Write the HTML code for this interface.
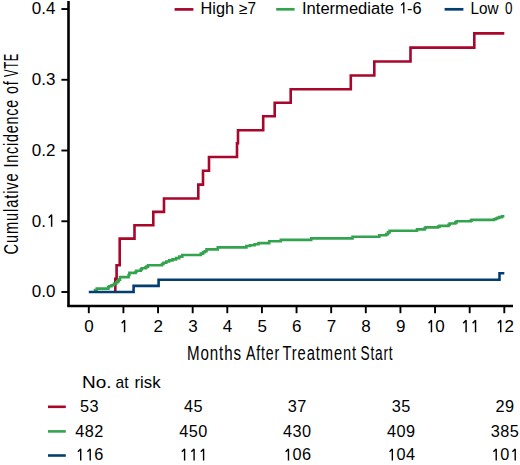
<!DOCTYPE html>
<html><head><meta charset="utf-8"><style>
html,body{margin:0;padding:0;background:#fff;}
svg{display:block;}
text{font-family:"Liberation Sans", sans-serif;fill:#000;}
</style></head><body>
<svg width="520" height="465" viewBox="0 0 520 465">
<path d="M68.5 1V306" stroke="#000" stroke-width="2.6" fill="none"/>
<path d="M67.2 306H513" stroke="#000" stroke-width="2.7" fill="none"/>
<path d="M61.4 292.00H68" stroke="#000" stroke-width="1.9"/>
<text x="36.60" y="297.40" text-anchor="middle" font-size="17">0</text>
<text x="43.69" y="297.40" text-anchor="middle" font-size="17">.</text>
<text x="50.77" y="297.40" text-anchor="middle" font-size="17">0</text>
<path d="M61.4 221.26H68" stroke="#000" stroke-width="1.9"/>
<text x="36.60" y="226.66" text-anchor="middle" font-size="17">0</text>
<text x="43.69" y="226.66" text-anchor="middle" font-size="17">.</text>
<path d="M48.73 217.73L51.62 214.76V226.66" stroke="#000" stroke-width="1.45" fill="none" stroke-linejoin="bevel"/>
<path d="M61.4 150.52H68" stroke="#000" stroke-width="1.9"/>
<text x="36.60" y="155.92" text-anchor="middle" font-size="17">0</text>
<text x="43.69" y="155.92" text-anchor="middle" font-size="17">.</text>
<text x="50.77" y="155.92" text-anchor="middle" font-size="17">2</text>
<path d="M61.4 79.78H68" stroke="#000" stroke-width="1.9"/>
<text x="36.60" y="85.18" text-anchor="middle" font-size="17">0</text>
<text x="43.69" y="85.18" text-anchor="middle" font-size="17">.</text>
<text x="50.77" y="85.18" text-anchor="middle" font-size="17">3</text>
<path d="M61.4 9.04H68" stroke="#000" stroke-width="1.9"/>
<text x="36.60" y="14.44" text-anchor="middle" font-size="17">0</text>
<text x="43.69" y="14.44" text-anchor="middle" font-size="17">.</text>
<text x="50.77" y="14.44" text-anchor="middle" font-size="17">4</text>
<path d="M88.80 306V313.2" stroke="#000" stroke-width="1.9"/>
<text x="89.10" y="332.20" text-anchor="middle" font-size="17">0</text>
<path d="M123.42 306V313.2" stroke="#000" stroke-width="1.9"/>
<path d="M121.68 323.28L124.57 320.30V332.20" stroke="#000" stroke-width="1.45" fill="none" stroke-linejoin="bevel"/>
<path d="M158.05 306V313.2" stroke="#000" stroke-width="1.9"/>
<text x="158.35" y="332.20" text-anchor="middle" font-size="17">2</text>
<path d="M192.68 306V313.2" stroke="#000" stroke-width="1.9"/>
<text x="192.98" y="332.20" text-anchor="middle" font-size="17">3</text>
<path d="M227.30 306V313.2" stroke="#000" stroke-width="1.9"/>
<text x="227.60" y="332.20" text-anchor="middle" font-size="17">4</text>
<path d="M261.93 306V313.2" stroke="#000" stroke-width="1.9"/>
<text x="262.23" y="332.20" text-anchor="middle" font-size="17">5</text>
<path d="M296.55 306V313.2" stroke="#000" stroke-width="1.9"/>
<text x="296.85" y="332.20" text-anchor="middle" font-size="17">6</text>
<path d="M331.18 306V313.2" stroke="#000" stroke-width="1.9"/>
<text x="331.48" y="332.20" text-anchor="middle" font-size="17">7</text>
<path d="M365.80 306V313.2" stroke="#000" stroke-width="1.9"/>
<text x="366.10" y="332.20" text-anchor="middle" font-size="17">8</text>
<path d="M400.43 306V313.2" stroke="#000" stroke-width="1.9"/>
<text x="400.73" y="332.20" text-anchor="middle" font-size="17">9</text>
<path d="M435.05 306V313.2" stroke="#000" stroke-width="1.9"/>
<path d="M428.58 323.28L431.47 320.30V332.20" stroke="#000" stroke-width="1.45" fill="none" stroke-linejoin="bevel"/>
<text x="440.08" y="332.20" text-anchor="middle" font-size="17">0</text>
<path d="M469.68 306V313.2" stroke="#000" stroke-width="1.9"/>
<path d="M463.21 323.28L466.10 320.30V332.20" stroke="#000" stroke-width="1.45" fill="none" stroke-linejoin="bevel"/>
<path d="M472.66 323.28L475.55 320.30V332.20" stroke="#000" stroke-width="1.45" fill="none" stroke-linejoin="bevel"/>
<path d="M504.30 306V313.2" stroke="#000" stroke-width="1.9"/>
<path d="M497.83 323.28L500.72 320.30V332.20" stroke="#000" stroke-width="1.45" fill="none" stroke-linejoin="bevel"/>
<text x="509.33" y="332.20" text-anchor="middle" font-size="17">2</text>
<path d="M115.3 292.5H115.3V278.7H116.6V265.3H119.7V238.6H134.5V225.3H153.3V211.9H164.0V198.5H198.3V184.6H203.0V170.8H209.0V157.0H237.0V143.3H238.0V130.3H263.2V116.3H274.7V102.8H290.7V89.2H350.8V75.5H374.3V61.5H410.5V47.6H474.3V33.4H504.3" stroke="#A8062B" stroke-width="2.6" fill="none"/>
<path d="M95.0 291.5H95.0V290.0H96.8V288.6H108.2V287.4H109.0V286.2H111.5V285.2H113.9V283.8H116.2V282.3H117.7V281.1H118.8V279.6H120.0V277.1H128.6V275.0H129.4V272.9H135.6V271.8H136.4V270.7H140.8V269.4H141.8V268.2H145.6V267.4H146.5V266.6H148.0V265.3H162.0V264.0H163.5V262.8H166.3V261.5H169.2V260.4H172.5V259.4H176.0V258.1H179.2V256.6H182.3V255.0H200.8V253.6H203.0V252.3H204.8V251.2H206.5V249.4H217.8V247.4H246.4V246.0H250.0V245.2H254.6V244.3H258.5V243.1H269.2V241.3H280.8V239.9H311.2V238.4H352.5V236.8H379.3V235.3H386.2V234.1H388.0V232.4H389.6V230.8H417.0V229.4H424.6V228.2H425.6V227.4H438.0V226.6H439.5V225.9H448.5V224.8H449.6V223.5H455.4V222.4H456.6V221.3H470.7V220.6H471.5V219.9H494.0V219.2H495.8V218.5H497.5V217.8H499.2V217.1H502.0V216.3H504.4" stroke="#33A34E" stroke-width="2.6" fill="none"/>
<path d="M88.8 292.0H133.6V285.9H158.6V279.8H499.5V273.2H504.3" stroke="#033E72" stroke-width="2.6" fill="none"/>
<path d="M401.12 5.36L403.79 2.61V13.60" stroke="#000" stroke-width="1.33" fill="none" stroke-linejoin="bevel"/>
<path d="M174.6 9.4H193.4" stroke="#A8062B" stroke-width="2.7"/>
<path d="M276.2 9.3H294.6" stroke="#33A34E" stroke-width="2.7"/>
<path d="M444.6 9.3H463.4" stroke="#033E72" stroke-width="2.7"/>
<path d="M48 406.8H65.8" stroke="#A8062B" stroke-width="2.6"/>
<text x="84.65" y="411.60" text-anchor="middle" font-size="16.3">5</text>
<text x="94.15" y="411.60" text-anchor="middle" font-size="16.3">3</text>
<text x="188.53" y="411.60" text-anchor="middle" font-size="16.3">4</text>
<text x="198.03" y="411.60" text-anchor="middle" font-size="16.3">5</text>
<text x="292.40" y="411.60" text-anchor="middle" font-size="16.3">3</text>
<text x="301.90" y="411.60" text-anchor="middle" font-size="16.3">7</text>
<text x="396.28" y="411.60" text-anchor="middle" font-size="16.3">3</text>
<text x="405.78" y="411.60" text-anchor="middle" font-size="16.3">5</text>
<text x="500.15" y="411.60" text-anchor="middle" font-size="16.3">2</text>
<text x="509.65" y="411.60" text-anchor="middle" font-size="16.3">9</text>
<path d="M48 431.4H65.8" stroke="#33A34E" stroke-width="2.6"/>
<text x="79.90" y="436.50" text-anchor="middle" font-size="16.3">4</text>
<text x="89.40" y="436.50" text-anchor="middle" font-size="16.3">8</text>
<text x="98.90" y="436.50" text-anchor="middle" font-size="16.3">2</text>
<text x="183.78" y="436.50" text-anchor="middle" font-size="16.3">4</text>
<text x="193.28" y="436.50" text-anchor="middle" font-size="16.3">5</text>
<text x="202.78" y="436.50" text-anchor="middle" font-size="16.3">0</text>
<text x="287.65" y="436.50" text-anchor="middle" font-size="16.3">4</text>
<text x="297.15" y="436.50" text-anchor="middle" font-size="16.3">3</text>
<text x="306.65" y="436.50" text-anchor="middle" font-size="16.3">0</text>
<text x="391.53" y="436.50" text-anchor="middle" font-size="16.3">4</text>
<text x="401.03" y="436.50" text-anchor="middle" font-size="16.3">0</text>
<text x="410.53" y="436.50" text-anchor="middle" font-size="16.3">9</text>
<text x="495.40" y="436.50" text-anchor="middle" font-size="16.3">3</text>
<text x="504.90" y="436.50" text-anchor="middle" font-size="16.3">8</text>
<text x="514.40" y="436.50" text-anchor="middle" font-size="16.3">5</text>
<path d="M48 455.5H65.8" stroke="#033E72" stroke-width="2.6"/>
<path d="M77.94 451.84L80.71 448.99V460.40" stroke="#000" stroke-width="1.39" fill="none" stroke-linejoin="bevel"/>
<path d="M87.44 451.84L90.21 448.99V460.40" stroke="#000" stroke-width="1.39" fill="none" stroke-linejoin="bevel"/>
<text x="98.90" y="460.40" text-anchor="middle" font-size="16.3">6</text>
<path d="M181.82 451.84L184.59 448.99V460.40" stroke="#000" stroke-width="1.39" fill="none" stroke-linejoin="bevel"/>
<path d="M191.32 451.84L194.09 448.99V460.40" stroke="#000" stroke-width="1.39" fill="none" stroke-linejoin="bevel"/>
<path d="M200.82 451.84L203.59 448.99V460.40" stroke="#000" stroke-width="1.39" fill="none" stroke-linejoin="bevel"/>
<path d="M285.69 451.84L288.47 448.99V460.40" stroke="#000" stroke-width="1.39" fill="none" stroke-linejoin="bevel"/>
<text x="297.15" y="460.40" text-anchor="middle" font-size="16.3">0</text>
<text x="306.65" y="460.40" text-anchor="middle" font-size="16.3">6</text>
<path d="M389.57 451.84L392.34 448.99V460.40" stroke="#000" stroke-width="1.39" fill="none" stroke-linejoin="bevel"/>
<text x="401.03" y="460.40" text-anchor="middle" font-size="16.3">0</text>
<text x="410.53" y="460.40" text-anchor="middle" font-size="16.3">4</text>
<path d="M493.44 451.84L496.22 448.99V460.40" stroke="#000" stroke-width="1.39" fill="none" stroke-linejoin="bevel"/>
<text x="504.90" y="460.40" text-anchor="middle" font-size="16.3">0</text>
<path d="M512.44 451.84L515.22 448.99V460.40" stroke="#000" stroke-width="1.39" fill="none" stroke-linejoin="bevel"/>
<text x="200.50" y="13.70" font-size="15.8" letter-spacing="0" textLength="33.50" lengthAdjust="spacingAndGlyphs">High</text>
<text x="239.00" y="13.70" font-size="15.8" letter-spacing="0" textLength="17.00" lengthAdjust="spacingAndGlyphs">≥7</text>
<text x="302.00" y="13.70" font-size="15.8" letter-spacing="0" textLength="92.00" lengthAdjust="spacingAndGlyphs">Intermediate</text>
<text x="407.00" y="13.70" font-size="15.8" letter-spacing="0" textLength="14.50" lengthAdjust="spacingAndGlyphs">-6</text>
<text x="470.50" y="13.70" font-size="15.8" letter-spacing="0" textLength="28.00" lengthAdjust="spacingAndGlyphs">Low</text>
<text x="505.00" y="13.70" font-size="15.8" letter-spacing="0" textLength="7.50" lengthAdjust="spacingAndGlyphs">0</text>
<text x="82.00" y="387.70" font-size="15.9" letter-spacing="0" textLength="29.50" lengthAdjust="spacingAndGlyphs">No.</text>
<text x="115.50" y="387.70" font-size="15.9" letter-spacing="0" textLength="13.00" lengthAdjust="spacingAndGlyphs">at</text>
<text x="134.50" y="387.70" font-size="15.9" letter-spacing="0" textLength="26.00" lengthAdjust="spacingAndGlyphs">risk</text>
<text x="187.00" y="360.20" font-size="20" letter-spacing="1.2" textLength="55.00" lengthAdjust="spacingAndGlyphs">Months</text>
<text x="246.00" y="360.20" font-size="20" letter-spacing="1.2" textLength="34.00" lengthAdjust="spacingAndGlyphs">After</text>
<text x="282.50" y="360.20" font-size="20" letter-spacing="1.2" textLength="74.50" lengthAdjust="spacingAndGlyphs">Treatment</text>
<text x="360.50" y="360.20" font-size="20" letter-spacing="1.2" textLength="33.00" lengthAdjust="spacingAndGlyphs">Start</text>
<text transform="translate(17.70 254.50) rotate(-90)" font-size="20" letter-spacing="1.2" textLength="82.00" lengthAdjust="spacingAndGlyphs">Cumulative</text>
<text transform="translate(17.70 167.50) rotate(-90)" font-size="20" letter-spacing="1.2" textLength="68.50" lengthAdjust="spacingAndGlyphs">Incidence</text>
<text transform="translate(17.70 94.00) rotate(-90)" font-size="20" letter-spacing="1.2" textLength="13.50" lengthAdjust="spacingAndGlyphs">of</text>
<text transform="translate(17.70 77.00) rotate(-90)" font-size="20" letter-spacing="1.2" textLength="24.00" lengthAdjust="spacingAndGlyphs">VTE</text>
</svg>
</body></html>
